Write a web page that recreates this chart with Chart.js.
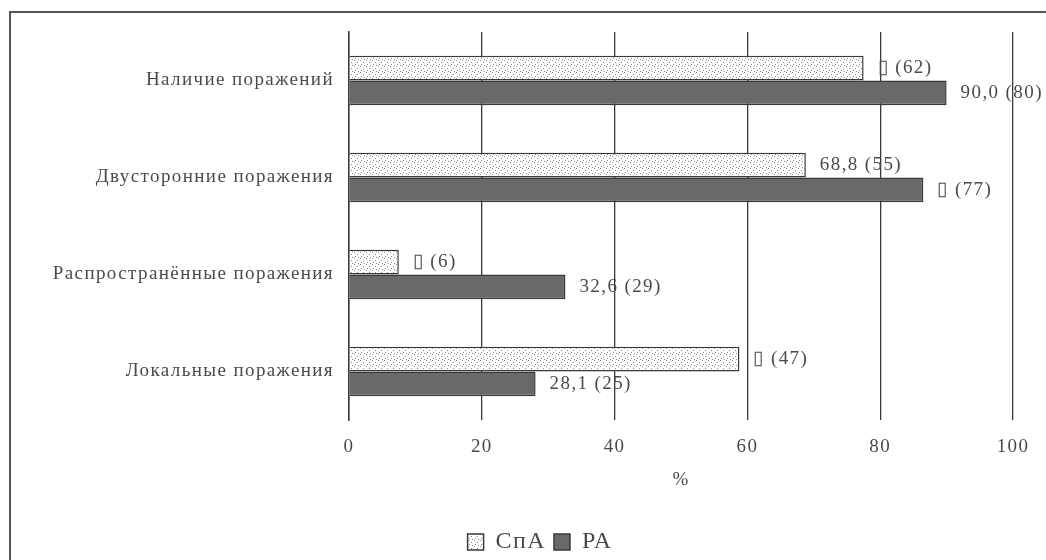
<!DOCTYPE html>
<html lang="ru">
<head>
<meta charset="utf-8">
<title>Поражения: СпА и РА</title>
<script src="https://cdn.jsdelivr.net/npm/chart.js@4.4.1/dist/chart.umd.min.js"></script>
<style>
  html, body { margin: 0; padding: 0; background: #fff; }
  #wrap { width: 1046px; height: 560px; position: relative; }
</style>
</head>
<body>
<div id="wrap"><canvas id="chart" width="1046" height="560"></canvas></div>
<script>
// Categories (top to bottom)
const categories = [
  'Наличие поражений',
  'Двусторонние поражения',
  'Распространённые поражения',
  'Локальные поражения'
];

// Series names
const seriesNames = ['СпА', 'РА'];

// Share of patients, %
const spaValues = [77.5, 68.8, 7.5, 58.8];
const raValues = [90.0, 86.5, 32.6, 28.1];

// Bar value labels: "percent (count)"
const spaLabels = ['▯ (62)', '68,8 (55)', '▯ (6)', '▯ (47)'];
const raLabels = ['90,0 (80)', '▯ (77)', '32,6 (29)', '28,1 (25)'];

// Axis ticks
const xTicks = [0, 20, 40, 60, 80, 100];
const xTitle = '%';

const FONT = '"Liberation Serif", "Times New Roman", serif';
const TEXT = '#4a4a4a';
const LINE = '#3a3a3a';
const TRACKING = '1.4px';

// Stippled fill for the first series
function makeDots() {
  const c = document.createElement('canvas');
  c.width = 6; c.height = 6;
  const g = c.getContext('2d');
  g.fillStyle = '#ffffff';
  g.fillRect(0, 0, 6, 6);
  g.fillStyle = '#8a8a8a';
  g.fillRect(0, 0, 1, 1);
  g.fillRect(3, 2, 1, 1);
  g.fillRect(1, 4, 1, 1);
  g.fillRect(4, 5, 1, 1);
  return g.createPattern(c, 'repeat');
}
const ctx = document.getElementById('chart').getContext('2d');
const dots = makeDots();

// Looser tracking for all chart text (re-applied after canvas resets)
const trackingPlugin = {
  id: 'tracking',
  beforeLayout(chart) { chart.ctx.letterSpacing = TRACKING; },
  beforeDraw(chart) { chart.ctx.letterSpacing = TRACKING; }
};

// Center the legend under the plot area rather than the canvas
const legendShift = {
  id: 'legendShift',
  afterLayout(chart) {
    const lg = chart.legend;
    if (!lg) return;
    const area = chart.chartArea;
    const dx = (area.left + area.right) / 2 - (lg.left + lg.right) / 2 - 141;
    lg.left += dx;
    lg.right += dx;
  }
};

// Frame along the top and left edges
const framePlugin = {
  id: 'frame',
  beforeDraw(chart) {
    const g = chart.ctx;
    g.save();
    g.strokeStyle = '#555';
    g.lineWidth = 2;
    g.beginPath();
    g.moveTo(10, chart.height);
    g.lineTo(10, 12);
    g.lineTo(chart.width, 12);
    g.stroke();
    g.restore();
  }
};

// Value labels to the right of each bar
const valueLabels = {
  id: 'valueLabels',
  afterDatasetsDraw(chart) {
    const g = chart.ctx;
    const sets = [spaLabels, raLabels];
    g.save();
    g.font = '19px ' + FONT;
    g.fillStyle = TEXT;
    g.textAlign = 'left';
    g.textBaseline = 'middle';
    chart.data.datasets.forEach((ds, i) => {
      chart.getDatasetMeta(i).data.forEach((bar, j) => {
        g.fillText(sets[i][j], bar.x + 14, bar.y);
      });
    });
    g.restore();
  }
};

new Chart(ctx, {
  type: 'bar',
  data: {
    labels: categories,
    datasets: [
      {
        label: seriesNames[0],
        data: spaValues,
        backgroundColor: dots,
        borderColor: LINE,
        borderWidth: 1.5
      },
      {
        label: seriesNames[1],
        data: raValues,
        backgroundColor: '#696969',
        borderColor: LINE,
        borderWidth: 1.5
      }
    ]
  },
  options: {
    indexAxis: 'y',
    responsive: false,
    animation: false,
    categoryPercentage: 0.51,
    barPercentage: 1.0,
    layout: { padding: { top: 32, right: 33, left: 0, bottom: -4 } },
    scales: {
      x: {
        min: 0,
        max: 100,
        afterBuildTicks(scale) { scale.ticks = xTicks.map(v => ({ value: v })); },
        afterFit(scale) { scale.height = 102; },
        grid: { color: LINE, lineWidth: 1.3, drawTicks: false },
        border: { display: false },
        ticks: { color: TEXT, padding: 16, font: { family: FONT, size: 19 } },
        title: {
          display: true,
          text: xTitle,
          color: TEXT,
          font: { family: FONT, size: 19 },
          padding: { top: 0, bottom: 31 }
        }
      },
      y: {
        afterFit(scale) { scale.width = 349; },
        grid: { display: false, drawTicks: false },
        border: { display: true, color: LINE, width: 1.5 },
        ticks: { color: TEXT, padding: 15, font: { family: FONT, size: 19 } }
      }
    },
    plugins: {
      legend: {
        position: 'bottom',
        labels: {
          color: TEXT,
          font: { family: FONT, size: 24 },
          boxWidth: 16,
          boxHeight: 16,
          padding: 8
        }
      },
      tooltip: { enabled: false }
    }
  },
  plugins: [trackingPlugin, legendShift, framePlugin, valueLabels]
});
</script>
</body>
</html>
